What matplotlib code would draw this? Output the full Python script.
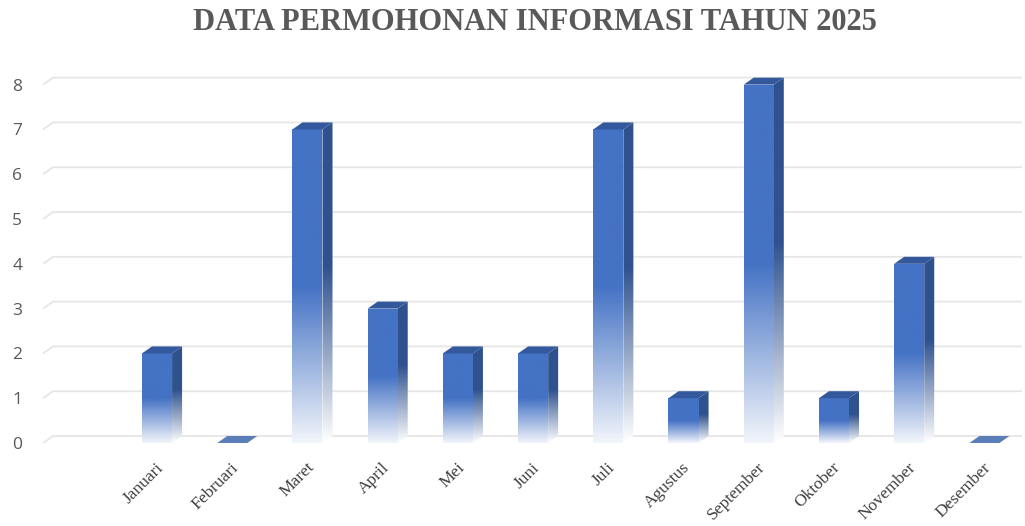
import numpy as np
import matplotlib
matplotlib.use("Agg")
import matplotlib.pyplot as plt
from matplotlib.patches import Polygon
from matplotlib.colors import to_rgb

# data
bulan = ["Januari", "Februari", "Maret", "April", "Mei", "Juni",
         "Juli", "Agustus", "September", "Oktober", "November", "Desember"]
jumlah = [2, 0, 7, 3, 2, 2, 7, 1, 8, 1, 4, 0]
y_ticks = [0, 1, 2, 3, 4, 5, 6, 7, 8]

judul = "DATA PERMOHONAN INFORMASI TAHUN 2025"

# style
FRONT = "#4472C4"
SIDE = "#2F528F"
TOP = "#34589C"
FLAT = "#5B7DB8"
PALE = "#F2F5FB"
GRID = "#E6E6E6"
W = 0.40      # front face width (category units)
DX = 0.133    # 3d depth offset, x
DY = 0.156    # 3d depth offset, y


def ramp(c_top, c_bottom, n=256, solid_from=0.5):
    """vertical gradient: pale at bottom, solid colour above solid_from."""
    f = np.linspace(0, 1, n)
    t = np.clip(f / solid_from, 0, 1)
    top = np.array(to_rgb(c_top))
    bot = np.array(to_rgb(c_bottom))
    col = bot[None, :] * (1 - t[:, None]) + top[None, :] * t[:, None]
    return col[:, None, :]   # row 0 = bottom (origin lower)


fig = plt.figure(figsize=(10.25, 5.26), dpi=100)
ax = fig.add_axes([43 / 1025, 0.1152, 979 / 1025, 0.758])
x0, x1 = -1.516, 11.50
y0, y1 = -0.5, 8.4

# back wall gridlines with small perspective kink on the left
for t in y_ticks:
    ax.plot([x0, x0 + DX, x1], [t, t + DY, t + DY], color=GRID, lw=1.3,
            zorder=0, solid_capstyle="butt")

for i, v in enumerate(jumlah):
    xl, xr = i - W / 2, i + W / 2
    if v == 0:
        ax.add_patch(Polygon([(xl, 0), (xr, 0), (xr + DX, DY), (xl + DX, DY)],
                             closed=True, fc=FLAT, ec="none", zorder=3))
        continue
    # front face
    front = Polygon([(xl, 0), (xr, 0), (xr, v), (xl, v)], closed=True,
                    fc="none", ec="none")
    ax.add_patch(front)
    im = ax.imshow(ramp(FRONT, PALE), extent=(xl, xr, 0, v), origin="lower",
                   aspect="auto", zorder=3, interpolation="bilinear")
    im.set_clip_path(front)
    # side face
    side = Polygon([(xr, 0), (xr + DX, DY), (xr + DX, v + DY), (xr, v)],
                   closed=True, fc="none", ec="none")
    ax.add_patch(side)
    im2 = ax.imshow(ramp(SIDE, "#FFFFFF", solid_from=0.55),
                    extent=(xr, xr + DX, 0, v + DY), origin="lower",
                    aspect="auto", zorder=3, interpolation="bilinear")
    im2.set_clip_path(side)
    # top face
    ax.add_patch(Polygon([(xl, v), (xr, v), (xr + DX, v + DY), (xl + DX, v + DY)],
                         closed=True, fc=TOP, ec="none", zorder=4))

# month labels, rotated like the original
for i, lab in enumerate(bulan):
    ax.annotate(lab, (i, 0), xytext=(3, -16), textcoords="offset points",
                rotation=45, rotation_mode="anchor", ha="right", va="center",
                fontsize=12.5, family="Liberation Serif", color="#404040",
                annotation_clip=False)

ax.set_xlim(x0, x1)
ax.set_ylim(y0, y1)
ax.set_xticks([])
ax.set_yticks(y_ticks)
ax.set_yticklabels([str(t) for t in y_ticks], fontsize=12.5,
                   family="Open Sans", color="#595959")
ax.tick_params(axis="y", length=0, pad=15)
for s in ax.spines.values():
    s.set_visible(False)

fig.text(535 / 1025, 1 - 23 / 526, judul, ha="center", va="center",
         fontsize=22, fontweight="bold", family="Liberation Serif",
         color="#595959")

fig.savefig("out.png", dpi=100)
